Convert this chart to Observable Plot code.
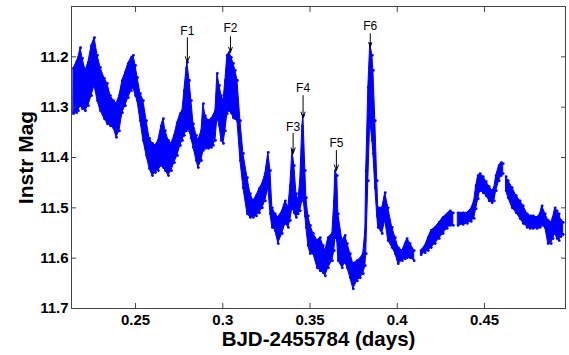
<!DOCTYPE html>
<html>
<head>
<meta charset="utf-8">
<script src="https://cdn.jsdelivr.net/npm/d3@7"></script>
<script src="https://cdn.jsdelivr.net/npm/@observablehq/plot@0.6"></script>
<style>
html,body{margin:0;padding:0;background:#fff;}
</style>
</head>
<body>
<div id="chart"></div>
<script>
// Time (BJD-2455784, days) sampled along the light curve
const time = [
0.2145,0.2162,0.2173,0.2185,0.2196,0.2213,0.2230,0.2248,0.2265,0.2282,
0.2299,0.2322,0.2339,0.2356,0.2374,0.2391,0.2408,0.2425,0.2442,0.2459,
0.2477,0.2488,0.2500,0.2511,0.2528,0.2545,0.2563,0.2580,0.2597,0.2614,
0.2631,0.2648,0.2660,0.2671,0.2689,0.2706,0.2723,0.2740,0.2757,0.2769,
0.2780,0.2792,0.2797,0.2809,0.2820,0.2832,0.2849,0.2860,0.2878,0.2889,
0.2900,0.2918,0.2935,0.2946,0.2958,0.2969,0.2981,0.2992,0.3004,0.3015,
0.3026,0.3038,0.3049,0.3061,0.3072,0.3084,0.3101,0.3118,0.3141,0.3158,
0.3175,0.3193,0.3210,0.3227,0.3244,0.3261,0.3273,0.3284,0.3301,0.3318,
0.3341,0.3359,0.3376,0.3387,0.3399,0.3410,0.3422,0.3433,0.3444,0.3456,
0.3462,0.3473,0.3479,0.3490,0.3502,0.3519,0.3542,0.3559,0.3576,0.3588,
0.3605,0.3628,0.3639,0.3645,0.3656,0.3662,0.3685,0.3702,0.3714,0.3731,
0.3748,0.3771,0.3788,0.3805,0.3817,0.3822,0.3834,0.3845,0.3857,0.3863,
0.3874,0.3885,0.3891,0.3914,0.3931,0.3948,0.3971,0.3989,0.4006,0.4029,
0.4046,0.4057,0.4074,0.4097,
0.4137,0.4160,0.4178,0.4195,0.4218,0.4241,0.4263,0.4286,0.4304,0.4321,
0.4349,0.4378,0.4401,0.4424,0.4441,0.4452,0.4464,0.4475,0.4493,0.4510,
0.4527,0.4544,0.4556,0.4567,0.4584,0.4596,0.4607,
0.4624,0.4636,0.4659,0.4682,0.4704,0.4722,0.4745,0.4762,0.4779,0.4802,
0.4819,0.4830,0.4848,0.4865,0.4882,0.4893,0.4905,0.4916,0.4928,0.4939,0.4951
];
// Brightest (smallest) instrumental magnitude of the point cloud at each time
const magBright = [
11.223,11.211,11.201,11.182,11.203,11.227,11.211,11.178,11.162,11.197,
11.221,11.243,11.253,11.277,11.287,11.293,11.277,11.247,11.231,11.213,
11.201,11.197,11.217,11.241,11.273,11.287,11.327,11.362,11.372,11.376,
11.366,11.337,11.323,11.347,11.366,11.372,11.356,11.331,11.313,11.307,
11.267,11.223,11.211,11.247,11.287,11.333,11.356,11.366,11.347,11.293,
11.317,11.327,11.323,11.317,11.307,11.233,11.257,11.277,11.287,11.247,
11.197,11.191,11.201,11.213,11.227,11.247,11.327,11.392,11.440,11.472,
11.486,11.476,11.462,11.452,11.432,11.390,11.426,11.500,11.512,11.519,
11.506,11.486,11.500,11.456,11.386,11.416,11.472,11.486,11.446,11.337,
11.317,11.426,11.480,11.516,11.535,11.551,11.565,11.559,11.575,11.585,
11.559,11.551,11.486,11.426,11.436,11.512,11.565,11.555,11.571,11.591,
11.611,11.605,11.601,11.591,11.545,11.426,11.261,11.174,11.197,11.227,
11.327,11.446,11.500,11.500,11.470,11.500,11.539,11.559,11.579,11.585,
11.571,11.561,11.571,11.585,
11.585,11.575,11.559,11.545,11.539,11.529,11.519,11.512,11.506,11.510,
11.510,11.510,11.510,11.502,11.486,11.456,11.436,11.432,11.438,11.448,
11.458,11.466,11.460,11.436,11.416,11.410,11.412,
11.438,11.446,11.460,11.476,11.486,11.496,11.512,11.516,11.516,11.519,
11.512,11.496,11.512,11.525,11.529,11.519,11.500,11.506,11.512,11.525,11.529
];
// Faintest (largest) instrumental magnitude of the point cloud at each time
const magFaint = [
11.313,11.311,11.307,11.297,11.303,11.307,11.297,11.277,11.257,11.287,
11.307,11.323,11.333,11.337,11.341,11.360,11.347,11.311,11.297,11.281,
11.267,11.261,11.277,11.287,11.327,11.366,11.396,11.422,11.436,11.430,
11.426,11.416,11.420,11.426,11.436,11.426,11.410,11.396,11.376,11.366,
11.356,11.347,11.343,11.347,11.362,11.380,11.406,11.420,11.406,11.386,
11.382,11.382,11.380,11.376,11.366,11.321,11.337,11.366,11.372,11.347,
11.313,11.307,11.311,11.321,11.323,11.327,11.406,11.460,11.512,11.519,
11.519,11.516,11.510,11.500,11.486,11.460,11.512,11.539,11.545,11.571,
11.551,11.531,11.539,11.525,11.500,11.510,11.519,11.512,11.506,11.486,
11.480,11.516,11.539,11.575,11.591,11.591,11.619,11.625,11.629,11.635,
11.619,11.605,11.585,11.559,11.565,11.605,11.619,11.609,11.619,11.639,
11.661,11.645,11.639,11.631,11.615,11.591,11.446,11.327,11.366,11.392,
11.460,11.516,11.539,11.551,11.525,11.565,11.579,11.591,11.611,11.605,
11.601,11.599,11.599,11.605,
11.593,11.589,11.585,11.579,11.571,11.561,11.551,11.541,11.535,11.535,
11.535,11.533,11.531,11.527,11.521,11.502,11.482,11.466,11.470,11.476,
11.486,11.490,11.486,11.466,11.446,11.436,11.432,
11.466,11.480,11.500,11.510,11.521,11.531,11.539,11.541,11.541,11.541,
11.539,11.535,11.539,11.571,11.571,11.561,11.551,11.561,11.565,11.557,11.553
];
// Data gaps (times where the observations break)
const gapTimes = [0.4120, 0.4335, 0.4615];

// Flare annotations
const flareNames = ["F1","F2","F3","F4","F5","F6"];
const flareTime  = [0.2797, 0.3044, 0.3403, 0.3460, 0.3651, 0.3845];
const flarePeak  = [11.211, 11.191, 11.392, 11.321, 11.426, 11.180];
const arrowTail  = [11.162, 11.160, 11.352, 11.277, 11.386, 11.154];
const labelMag   = [11.148, 11.144, 11.339, 11.263, 11.372, 11.140];

// Axes
const xTicks = [0.25, 0.30, 0.35, 0.40, 0.45];
const xTickLabels = ["0.25","0.3","0.35","0.4","0.45"];
const yTicks = [11.2, 11.3, 11.4, 11.5, 11.6, 11.7];
const yTickLabels = ["11.2","11.3","11.4","11.5","11.6","11.7"];
const xLabel = "BJD-2455784 (days)";
const yLabel = "Instr Mag";

const rows = time.map((t, i) => ({
  t, hi: magBright[i], lo: magFaint[i],
  seg: gapTimes.filter(g => t > g).length
}));
const flares = flareNames.map((name, i) => ({
  name, t: flareTime[i], tip: flarePeak[i], tail: arrowTail[i], label: labelMag[i]
}));

const blue = "#0000ff";
const axisColor = "#444";
const font = "'Liberation Sans', Arial, Helvetica, sans-serif";

const chart = Plot.plot({
  width: 569,
  height: 355,
  marginTop: 6,
  marginRight: 4,
  marginBottom: 47,
  marginLeft: 71,
  style: {fontFamily: font, background: "#fff", overflow: "visible"},
  x: {domain: [0.2133, 0.4964]},
  y: {domain: [11.1, 11.7], reverse: true},
  marks: [
    Plot.areaY(rows, {x: "t", y1: "lo", y2: "hi", z: "seg", fill: blue, stroke: blue, strokeWidth: 1, strokeLinejoin: "round"}),
    Plot.dot(rows, {x: "t", y: "hi", r: 1.4, fill: blue}),
    Plot.dot(rows, {x: "t", y: "lo", r: 1.4, fill: blue}),
    Plot.frame({stroke: axisColor}),
    Plot.axisX({anchor: "bottom", ticks: xTicks, tickSize: -5, tickPadding: 11,
      tickFormat: d => xTickLabels[xTicks.indexOf(d)], label: null,
      stroke: axisColor, fill: "#000", fontSize: 15, fontWeight: "bold"}),
    Plot.axisX({anchor: "top", ticks: xTicks, tickSize: -5, tickFormat: () => "", label: null, stroke: axisColor}),
    Plot.axisY({anchor: "left", ticks: yTicks, tickSize: -5, tickPadding: 8,
      tickFormat: d => yTickLabels[yTicks.indexOf(d)], label: null,
      stroke: axisColor, fill: "#000", fontSize: 15, fontWeight: "bold"}),
    Plot.axisY({anchor: "right", ticks: yTicks, tickSize: -5, tickFormat: () => "", label: null, stroke: axisColor}),
    Plot.arrow(flares, {x1: "t", x2: "t", y1: "tail", y2: "tip", stroke: "#000", strokeWidth: 1, headLength: 9, headAngle: 40}),
    Plot.text(flares, {x: "t", y: "label", text: "name", fontSize: 12, fill: "#000"}),
    Plot.text([xLabel], {frameAnchor: "bottom", dy: 31, textAnchor: "middle", lineAnchor: "middle", text: d => d, fontSize: 20.5, fontWeight: "bold", fill: "#000"}),
    Plot.text([yLabel], {frameAnchor: "left", dx: -45, rotate: -90, textAnchor: "middle", lineAnchor: "middle", text: d => d, fontSize: 21, fontWeight: "bold", fill: "#000"})
  ]
});
document.getElementById("chart").appendChild(chart);
</script>
</body>
</html>
